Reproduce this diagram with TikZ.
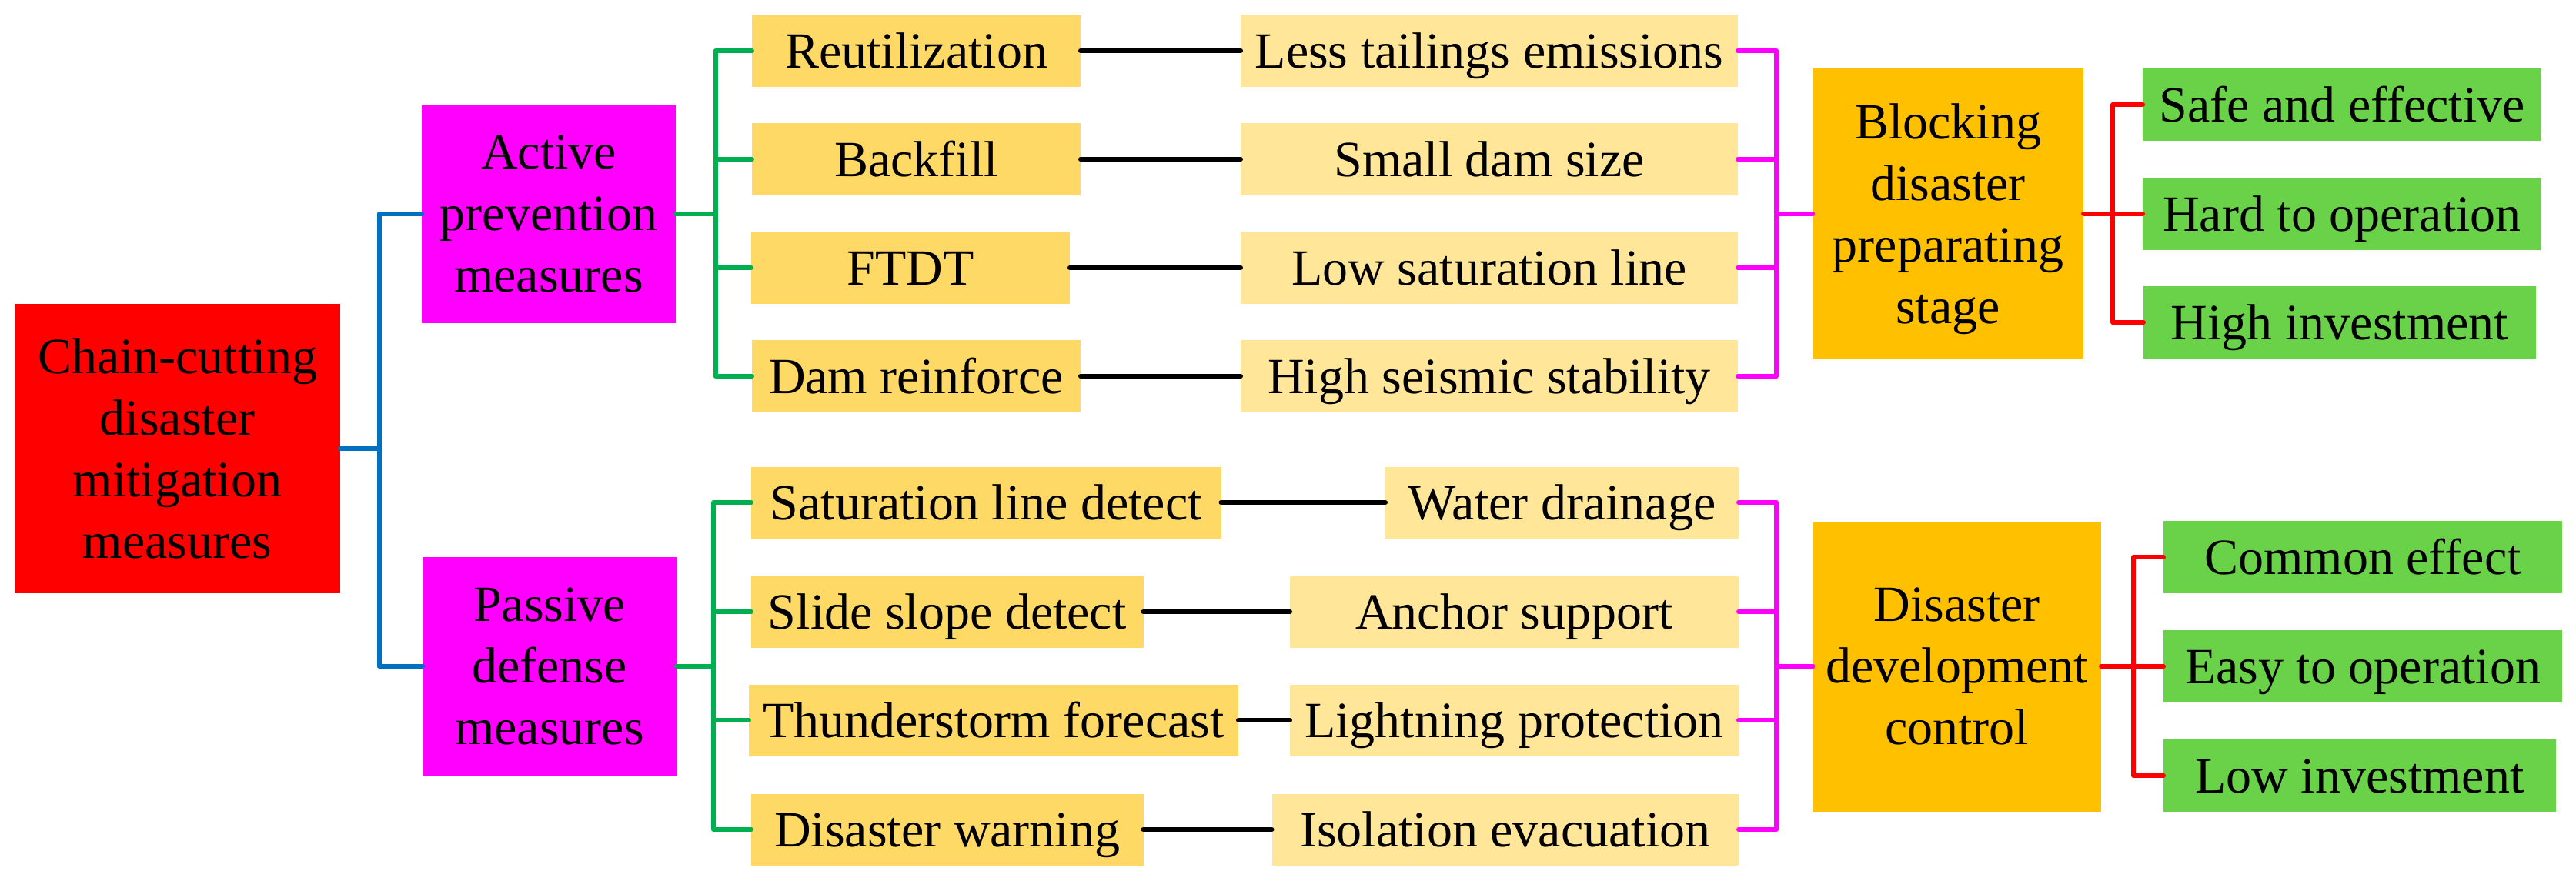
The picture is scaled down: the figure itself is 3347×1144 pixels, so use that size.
\documentclass[tikz,border=0pt]{standalone}
\usepackage{fontspec}
\setmainfont{Liberation Serif}
\definecolor{rootred}{HTML}{FF0000}
\definecolor{mag}{HTML}{FF00FF}
\definecolor{gold}{HTML}{FFD966}
\definecolor{lightgold}{HTML}{FFE699}
\definecolor{amber}{HTML}{FFC000}
\definecolor{leaf}{HTML}{6AD248}
\definecolor{lblue}{HTML}{0070C0}
\definecolor{lgreen}{HTML}{00B050}
\begin{document}
\begin{tikzpicture}[x=1pt,y=-1pt,
  box/.style={inner sep=0pt, outer sep=0pt, font=\fontsize{66}{80}\selectfont, text=black},
  one/.style={box, text height=44pt, text depth=0pt},
  multi/.style={box, align=center, text depth=0pt},
  sz/.style 2 args={minimum width=#1pt, minimum height=#2pt},
  conn/.style={line width=6pt, line cap=round, line join=round},
  bl/.style={conn, draw=lblue},
  gr/.style={conn, draw=lgreen},
  bk/.style={conn, draw=black},
  mg/.style={conn, draw=mag},
  rd/.style={conn, draw=rootred}]
\useasboundingbox (0,0) rectangle (3347,1144);

% root and level 1
\node[multi, fill=rootred, sz={423}{376}] (root) at (230.5,583) {Chain-cutting\\disaster\\mitigation\\measures};
\node[multi, fill=mag, sz={330}{283}] (act) at (713,278) {Active\\prevention\\measures};
\node[multi, fill=mag, sz={330}{284}] (pas) at (714,866) {Passive\\defense\\measures};

% upper measures
\node[one, fill=gold, sz={427}{94}] (r1) at (1190.5,66) {Reutilization};
\node[one, fill=gold, sz={427}{94}] (r2) at (1190.5,207) {Backfill};
\node[one, fill=gold, sz={414}{94}] (r3) at (1183,348) {FTDT};
\node[one, fill=gold, sz={427}{94}] (r4) at (1190.5,489) {Dam reinforce};
\node[one, fill=lightgold, sz={646}{94}] (l1) at (1935,66) {Less tailings emissions};
\node[one, fill=lightgold, sz={646}{94}] (l2) at (1935,207) {Small dam size};
\node[one, fill=lightgold, sz={646}{94}] (l3) at (1935,348) {Low saturation line};
\node[one, fill=lightgold, sz={646}{94}] (l4) at (1935,489) {High seismic stability};

% lower measures
\node[one, fill=gold, sz={610.5}{93}] (s1) at (1281.25,653) {Saturation line detect};
\node[one, fill=gold, sz={509.5}{93}] (s2) at (1230.75,795) {Slide slope detect};
\node[one, fill=gold, sz={636}{93}] (s3) at (1291,936) {Thunderstorm forecast};
\node[one, fill=gold, sz={509.5}{93}] (s4) at (1230.75,1078) {Disaster warning};
\node[one, fill=lightgold, sz={459}{93}] (t1) at (2029.5,653) {Water drainage};
\node[one, fill=lightgold, sz={583}{93}] (t2) at (1967.5,795) {Anchor support};
\node[one, fill=lightgold, sz={583}{93}] (t3) at (1967.5,936) {Lightning protection};
\node[one, fill=lightgold, sz={606.5}{93}] (t4) at (1955.75,1078) {Isolation evacuation};

% stages
\node[multi, fill=amber, sz={352}{377}] (blk) at (2531,277.5) {Blocking\\disaster\\preparating\\stage};
\node[multi, fill=amber, sz={375}{377}] (dev) at (2542.5,866) {Disaster\\development\\control};

% outcomes
\node[one, fill=leaf, sz={518}{94}] (g1) at (3043,136) {Safe and effective};
\node[one, fill=leaf, sz={518}{94}] (g2) at (3043,278) {Hard to operation};
\node[one, fill=leaf, sz={510}{94}] (g3) at (3040,419) {High investment};
\node[one, fill=leaf, sz={518}{94}] (h1) at (3070,724) {Common effect};
\node[one, fill=leaf, sz={518}{94}] (h2) at (3070,866) {Easy to operation};
\node[one, fill=leaf, sz={510}{94}] (h3) at (3066,1008) {Low investment};

% bus coordinates
\coordinate (bx) at (492.5,0);
\coordinate (gx1) at (929.5,0);
\coordinate (gx2) at (927,0);
\coordinate (mx) at (2308,0);
\coordinate (rx1) at (2745,0);
\coordinate (rx2) at (2772,0);

% blue
\draw[bl] (root.east) -- (root.east -| bx) |- (act.west);
\draw[bl] (root.east -| bx) |- (pas.west);

% green
\draw[gr] (act.east) -- (act.east -| gx1) |- (r1.west);
\draw[gr] (act.east -| gx1) |- (r2.west);
\draw[gr] (act.east -| gx1) |- (r3.west);
\draw[gr] (act.east -| gx1) |- (r4.west);
\draw[gr] (pas.east) -- (pas.east -| gx2) |- (s1.west);
\draw[gr] (pas.east -| gx2) |- (s2.west);
\draw[gr] (pas.east -| gx2) |- (s3.west);
\draw[gr] (pas.east -| gx2) |- (s4.west);

% black
\draw[bk] (r1.east) -- (l1.west);
\draw[bk] (r2.east) -- (l2.west);
\draw[bk] (r3.east) -- (l3.west);
\draw[bk] (r4.east) -- (l4.west);
\draw[bk] (s1.east) -- (t1.west);
\draw[bk] (s2.east) -- (t2.west);
\draw[bk] (s3.east) -- (t3.west);
\draw[bk] (s4.east) -- (t4.west);

% magenta
\draw[mg] (l1.east) -- (l1.east -| mx) |- (blk.west);
\draw[mg] (l2.east) -- (l2.east -| mx) |- (blk.west);
\draw[mg] (l3.east) -- (l3.east -| mx) |- (blk.west);
\draw[mg] (l4.east) -- (l4.east -| mx) |- (blk.west);
\draw[mg] (t1.east) -- (t1.east -| mx) |- (dev.west);
\draw[mg] (t2.east) -- (t2.east -| mx) |- (dev.west);
\draw[mg] (t3.east) -- (t3.east -| mx) |- (dev.west);
\draw[mg] (t4.east) -- (t4.east -| mx) |- (dev.west);

% red
\draw[rd] (blk.east) -- (blk.east -| rx1) |- (g1.west);
\draw[rd] (blk.east -| rx1) |- (g2.west);
\draw[rd] (blk.east -| rx1) |- (g3.west);
\draw[rd] (dev.east) -- (dev.east -| rx2) |- (h1.west);
\draw[rd] (dev.east -| rx2) |- (h2.west);
\draw[rd] (dev.east -| rx2) |- (h3.west);
\end{tikzpicture}
\end{document}
